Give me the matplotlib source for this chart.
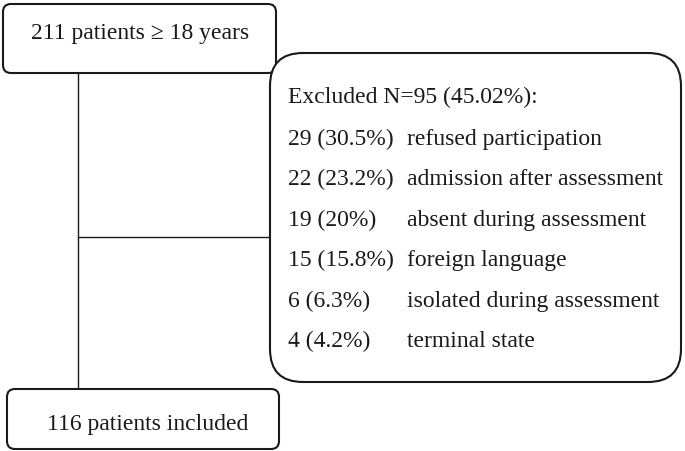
import matplotlib
matplotlib.use("Agg")
import matplotlib.pyplot as plt
from matplotlib.patches import FancyBboxPatch

total_label = "211 patients \u2265 18 years"
included_label = "116 patients included"
excluded_header = "Excluded N=95 (45.02%):"
counts = [29, 22, 19, 15, 6, 4]
percents = ["30.5%", "23.2%", "20%", "15.8%", "6.3%", "4.2%"]
reasons = ["refused participation", "admission after assessment",
           "absent during assessment", "foreign language",
           "isolated during assessment", "terminal state"]

W, H = 685, 451
fig = plt.figure(figsize=(W / 100, H / 100), dpi=100)
ax = fig.add_axes([0, 0, 1, 1])
ax.set_xlim(0, W)
ax.set_ylim(H, 0)
ax.axis("off")

ec = "#1a1a1a"
lw = 1.5
font = dict(family="Liberation Serif", color="#1a1a1a")
fs = 17

def box(x0, y0, x1, y1, r):
    p = FancyBboxPatch((x0, y0), x1 - x0, y1 - y0,
                       boxstyle=f"round,pad=0,rounding_size={r}",
                       fc="white", ec=ec, lw=lw, zorder=2)
    ax.add_patch(p)

# connecting lines
ax.plot([78, 78], [73, 389], color=ec, lw=1.0, zorder=1)
ax.plot([78, 270], [237, 237], color=ec, lw=1.0, zorder=1)

# top box
box(3, 4, 276, 73, 8)
ax.text(140, 39, total_label, ha="center", va="baseline", fontsize=fs, **font, zorder=3)

# bottom box
box(7, 389, 279, 449, 8)
ax.text(148, 430, included_label, ha="center", va="baseline", fontsize=fs, **font, zorder=3)

# exclusion box
box(270, 53, 681, 382, 33)
ax.text(288, 103, excluded_header, ha="left", va="baseline", fontsize=fs, **font, zorder=3)
y0 = 145
dy = 40.4
for i, (c, p, r) in enumerate(zip(counts, percents, reasons)):
    y = y0 + i * dy
    ax.text(288, y, f"{c} ({p})", ha="left", va="baseline", fontsize=fs, **font, zorder=3)
    ax.text(407, y, r, ha="left", va="baseline", fontsize=fs, **font, zorder=3)

fig.savefig("out.png", dpi=100)
